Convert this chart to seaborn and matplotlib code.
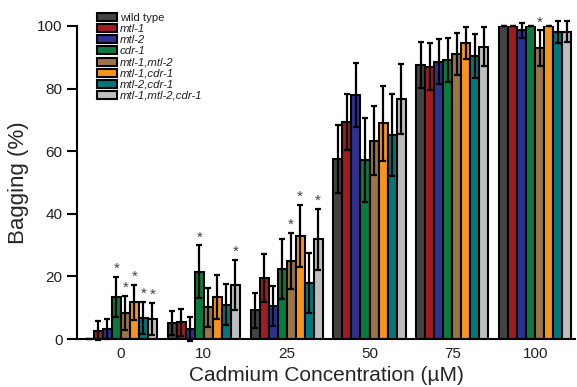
import matplotlib
matplotlib.use("Agg")
import matplotlib.pyplot as plt
import pandas as pd
import seaborn as sns


KONSENTRASJONER = ["0", "10", "25", "50", "75", "100"]
GENOTYPER = [
    "wild type",
    "mtl-1",
    "mtl-2",
    "cdr-1",
    "mtl-1,mtl-2",
    "mtl-1,cdr-1",
    "mtl-2,cdr-1",
    "mtl-1,mtl-2,cdr-1",
]
FARGER = ["#434343", "#9e1c22", "#2e3192", "#0a7a3e", "#9a7446", "#f7941d", "#00787a", "#bcbec0"]

# gjennomsnitt per genotype, en verdi per konsentrasjon
MIDDEL = {
    "wild type": [0.0, 5.2, 9.2, 57.5, 87.5, 100.0],
    "mtl-1": [2.6, 5.3, 19.5, 69.3, 87.0, 100.0],
    "mtl-2": [3.2, 3.3, 10.6, 78.0, 88.6, 98.6],
    "cdr-1": [13.5, 21.5, 22.3, 57.2, 89.1, 100.0],
    "mtl-1,mtl-2": [8.3, 10.1, 25.0, 63.4, 91.1, 92.9],
    "mtl-1,cdr-1": [11.7, 13.4, 32.9, 68.9, 94.5, 100.0],
    "mtl-2,cdr-1": [6.8, 11.0, 18.0, 65.2, 90.4, 98.0],
    "mtl-1,mtl-2,cdr-1": [6.4, 17.3, 31.8, 76.7, 93.3, 98.2],
}
STD = {
    "wild type": [0.0, 3.8, 5.6, 11.0, 7.3, 0.0],
    "mtl-1": [3.0, 4.2, 7.6, 9.0, 7.5, 0.0],
    "mtl-2": [3.2, 3.8, 6.4, 10.3, 7.3, 2.4],
    "cdr-1": [6.4, 8.4, 9.5, 13.3, 7.0, 0.0],
    "mtl-1,mtl-2": [5.5, 6.3, 9.0, 11.0, 6.7, 5.7],
    "mtl-1,cdr-1": [5.6, 6.9, 9.9, 12.0, 5.0, 0.0],
    "mtl-2,cdr-1": [5.1, 6.6, 9.6, 13.0, 7.0, 3.6],
    "mtl-1,mtl-2,cdr-1": [5.1, 7.9, 9.8, 11.2, 6.2, 3.4],
}
SIGNIFIKANT = {
    "0": ["cdr-1", "mtl-1,mtl-2", "mtl-1,cdr-1", "mtl-2,cdr-1", "mtl-1,mtl-2,cdr-1"],
    "10": ["cdr-1", "mtl-1,mtl-2,cdr-1"],
    "25": ["mtl-1,mtl-2", "mtl-1,cdr-1", "mtl-1,mtl-2,cdr-1"],
    "100": ["mtl-1,mtl-2"],
}


def lag_tabell() -> pd.DataFrame:
    rader = []
    for gen in GENOTYPER:
        for i, kons in enumerate(KONSENTRASJONER):
            rader.append({"kons": kons, "genotype": gen, "bagging": MIDDEL[gen][i], "sd": STD[gen][i]})
    return pd.DataFrame(rader)


def main() -> None:
    sns.set_theme(style="ticks")
    plt.rcParams["font.family"] = ["Liberation Sans", "DejaVu Sans"]
    plt.rcParams["text.color"] = "#231f20"
    plt.rcParams["xtick.labelcolor"] = "#231f20"
    plt.rcParams["ytick.labelcolor"] = "#231f20"

    df = lag_tabell()

    fig = plt.figure(figsize=(5.77, 3.87), dpi=100)
    ax = fig.add_axes([0.1335, 0.124, 0.863, 0.809])

    sns.barplot(
        data=df, x="kons", y="bagging", hue="genotype",
        order=KONSENTRASJONER, hue_order=GENOTYPER, palette=FARGER,
        width=0.87, errorbar=None, edgecolor="black", linewidth=1.5,
        saturation=1, legend=False, ax=ax,
    )
    bar_grupper = list(ax.containers)

    for gen, container in zip(GENOTYPER, bar_grupper):
        xs = [p.get_x() + p.get_width() / 2 for p in container.patches]
        ax.errorbar(xs, MIDDEL[gen], yerr=STD[gen], fmt="none", ecolor="black",
                    elinewidth=1.6, capsize=2.5, capthick=1.6, clip_on=False, zorder=3)
        for i, kons in enumerate(KONSENTRASJONER):
            if gen in SIGNIFIKANT.get(kons, []):
                ax.text(xs[i], MIDDEL[gen][i] + STD[gen][i] + 0.3, "*", ha="center", va="bottom",
                        fontsize=11, color="#404040")

    ax.set_xlim(-0.53, 5.48)
    ax.set_ylim(0, 100)
    ax.set_yticks([0, 20, 40, 60, 80, 100])
    ax.tick_params(axis="y", length=7, width=1.5, labelsize=11, color="black")
    ax.tick_params(axis="x", length=0, labelsize=11, pad=6)
    for spine in ["left", "bottom"]:
        ax.spines[spine].set_linewidth(1.5)
        ax.spines[spine].set_color("black")
    sns.despine(ax=ax)

    ax.set_xlabel("Cadmium Concentration (\u00b5M)", fontsize=15, labelpad=3)
    ax.set_ylabel("Bagging (%)", fontsize=16, labelpad=6)

    handles = [c.patches[0] for c in bar_grupper]
    leg = fig.legend(
        handles, GENOTYPER, loc="upper left", bbox_to_anchor=(97 / 577, 1 - 13 / 387),
        frameon=False, fontsize=8.2, handlelength=1.75, handleheight=0.7,
        labelspacing=0.1, handletextpad=0.25, borderpad=0, borderaxespad=0,
    )
    for tekst in leg.get_texts()[1:]:
        tekst.set_fontstyle("italic")

    fig.savefig("out.png", dpi=100)
    plt.close(fig)


if __name__ == "__main__":
    main()
